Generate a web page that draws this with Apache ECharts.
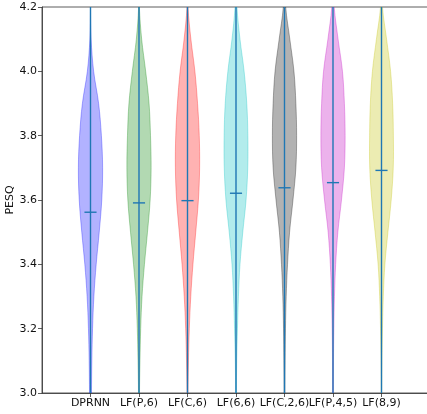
<!DOCTYPE html>
<html><head><meta charset="utf-8">
<script src="https://cdn.jsdelivr.net/npm/echarts@6/dist/echarts.min.js"></script>
<style>html,body{margin:0;padding:0;background:#fff}#c{width:427px;height:414px}</style>
</head><body><div id="c"></div>
<script>
const categories = ['DPRNN','LF(P,6)','LF(C,6)','LF(6,6)','LF(C,2,6)','LF(P,4,5)','LF(8,9)'];
const colors = ['0,0,255','0,128,0','255,0,0','0,191,191','0,0,0','191,0,191','191,191,0'];
const means = [3.562,3.591,3.598,3.621,3.638,3.654,3.692];
const mins = [2.6,2.6,2.6,2.6,2.6,2.6,2.6];
const maxs = [4.4,4.4,4.4,4.4,4.4,4.4,4.4];
const yTicks = [3.0,3.2,3.4,3.6,3.8,4.0,4.2];
// PESQ values at which the violin widths were read
const densityGrid = [4.3,4.2,4.1,4.0,3.9,3.8,3.7,3.6,3.5,3.4,3.3,3.2,3.1,3.0,2.9];
// relative widths (1 = widest) at each densityGrid value
const densDPRNN = [0,0,0.05,0.26,0.67,0.9,1.0,0.93,0.72,0.47,0.28,0.17,0.11,0.08,0.05];
const densLFP6  = [0,0.03,0.22,0.55,0.83,0.95,1.0,0.92,0.7,0.45,0.25,0.14,0.08,0.04,0.02];
const densLFC6  = [0,0.04,0.28,0.61,0.83,0.97,1.0,0.9,0.68,0.45,0.27,0.15,0.08,0.04,0.02];
const densLF66  = [0.02,0.08,0.33,0.67,0.89,0.98,0.97,0.83,0.56,0.33,0.2,0.12,0.06,0.03,0.02];
const densLFC26 = [0.03,0.1,0.44,0.78,0.94,1.0,0.94,0.7,0.42,0.25,0.14,0.08,0.05,0.03,0.02];
const densLFP45 = [0.03,0.1,0.42,0.78,0.94,1.0,0.94,0.7,0.4,0.22,0.12,0.07,0.04,0.03,0.02];
const densLF89  = [0.02,0.08,0.42,0.75,0.92,0.98,0.97,0.8,0.53,0.28,0.15,0.08,0.04,0.02,0.01];
const densities = [densDPRNN,densLFP6,densLFC6,densLF66,densLFC26,densLFP45,densLF89];

const HALF = 0.25;
const chart = echarts.init(document.getElementById('c'));
const font = 'DejaVu Sans';
const idx = categories.map((c,i)=>i);

chart.setOption({
  animation:false,
  grid:{left:42,top:7,width:388,height:386,show:true,borderColor:'#333',borderWidth:0.8,containLabel:false,outerBoundsMode:'none'},
  xAxis:{type:'value',min:0,max:8,interval:1,
    splitLine:{show:false},
    axisLine:{show:true,lineStyle:{color:'#333',width:0.8}},
    axisTick:{show:true,length:4,inside:false,lineStyle:{color:'#333',width:0.8},customValues:categories.map((c,i)=>i+1)},
    axisLabel:{margin:5,fontFamily:font,fontSize:11,color:'#111',customValues:categories.map((c,i)=>i+1),
      formatter:v=>categories[Math.round(v)-1]||''}
  },
  yAxis:{type:'value',min:3.0,max:4.2,interval:0.2,name:'PESQ',nameLocation:'middle',nameGap:26,nameMoveOverlap:false,
    nameTextStyle:{fontFamily:font,fontSize:11,color:'#111'},
    splitLine:{show:false},
    axisLine:{show:true,lineStyle:{color:'#333',width:0.8}},
    axisTick:{show:true,length:4,lineStyle:{color:'#333',width:0.8}},
    axisLabel:{margin:5,fontFamily:font,fontSize:11,color:'#111',formatter:v=>v.toFixed(1)}
  },
  series:[
    {type:'custom',clip:true,data:idx,z:2,
     renderItem:(params,api)=>{
       const i=params.dataIndex, pos=i+1, d=densities[i];
       const right=[], left=[];
       for(let k=0;k<densityGrid.length;k++){
         right.push(api.coord([pos+d[k]*HALF,densityGrid[k]]));
         left.push(api.coord([pos-d[k]*HALF,densityGrid[k]]));
       }
       const pts=right.concat(left.reverse());
       return {type:'polygon',shape:{points:pts,smooth:0.35},
         style:{fill:'rgba('+colors[i]+',0.3)',stroke:'rgba('+colors[i]+',0.3)',lineWidth:1}};
     }},
    {type:'custom',clip:true,data:idx,z:3,
     renderItem:(params,api)=>{
       const i=params.dataIndex, pos=i+1;
       const a=api.coord([pos,mins[i]]), b=api.coord([pos,maxs[i]]);
       return {type:'line',shape:{x1:a[0],y1:a[1],x2:b[0],y2:b[1]},style:{stroke:'#1f77b4',lineWidth:1.4}};
     }},
    {type:'custom',clip:true,data:idx,z:4,
     renderItem:(params,api)=>{
       const i=params.dataIndex, pos=i+1;
       const a=api.coord([pos-0.125,means[i]]), b=api.coord([pos+0.125,means[i]]);
       return {type:'line',shape:{x1:a[0],y1:a[1],x2:b[0],y2:b[1]},style:{stroke:'#1f77b4',lineWidth:1.4}};
     }}
  ]
});
</script></body></html>
